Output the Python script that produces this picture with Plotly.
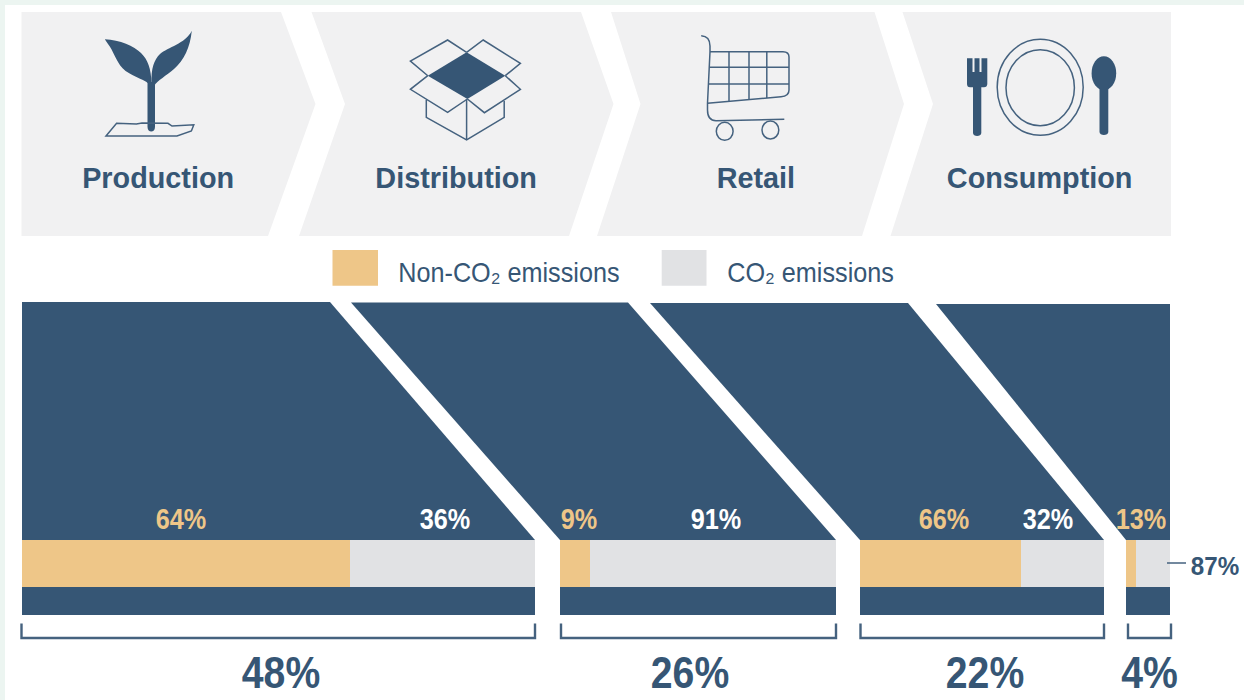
import json
import plotly.graph_objects as go

# ---- data ----
stages = ["Production", "Distribution", "Retail", "Consumption"]
stage_share = [48, 26, 22, 4]
non_co2_share = [64, 9, 66, 13]
co2_share = [36, 91, 32, 87]
# share of each bar actually painted orange in the picture
non_co2_painted = [64, 11, 66, 23]

# ---- layout (pixels) ----
W, H = 1244, 700
NAVY, ORANGE, GREY, PANEL, STRIP = "#365675", "#eec688", "#e1e2e4", "#f1f1f2", "#ecf5f1"
BRACKET = "#45627f"
FONT = "Liberation Sans, Arial, sans-serif"
bar_left = [22, 560, 860, 1126]
bar_right = [535, 836, 1104, 1170]
trap_top = [(22, 330, 302), (351, 628, 302.5), (650, 908, 303), (936, 1170, 304)]
bracket_x = [(21.5, 535), (561, 836), (860.5, 1104), (1128, 1171)]
share_label_x = [280.5, 689.5, 984.5, 1149]
stage_label_x = [157.5, 456, 755.5, 1039]
non_label_x = [181, 579, 944, 1141]
co2_label_x = [445, 716, 1048]

bar_w = [r - l for l, r in zip(bar_left, bar_right)]
orange_w = [w * p / 100 for w, p in zip(bar_w, non_co2_painted)]
grey_base = [l + o for l, o in zip(bar_left, orange_w)]
grey_w = [w - o for w, o in zip(bar_w, orange_w)]

fig = go.Figure()

# dark slanted blocks above the bars
for (tl, tr, ty), l, r in zip(trap_top, bar_left, bar_right):
    fig.add_trace(go.Scatter(x=[tl, tr, r, l, tl], y=[ty, ty, 540, 540, ty], mode="lines",
                             fill="toself", fillcolor=NAVY, line=dict(width=0),
                             hoverinfo="skip", showlegend=False))

def bars(x, base, y, width, color, name):
    fig.add_trace(go.Bar(x=x, base=base, y=[y] * len(x), width=width, orientation="h",
                         marker=dict(color=color, line=dict(width=0)), name=name, showlegend=False))

bars(orange_w, bar_left, 563.5, 47, ORANGE, "Non-CO2 emissions")
bars(grey_w, grey_base, 563.5, 47, GREY, "CO2 emissions")
bars(bar_w, bar_left, 601, 28, NAVY, "band")

shapes = []
def rect(x0, y0, x1, y1, fill):
    shapes.append(dict(type="rect", x0=x0, y0=y0, x1=x1, y1=y1, fillcolor=fill, line=dict(width=0), layer="below"))
def path(d, fill=None, color=None, width=1.5):
    s = dict(type="path", path=d, layer="above", line=dict(width=width if color else 0, color=color or "rgba(0,0,0,0)"))
    s["fillcolor"] = fill if fill else "rgba(0,0,0,0)"
    shapes.append(s)
def ellipse(cx, cy, rx, ry, fill=None, color=None, width=1.5):
    shapes.append(dict(type="circle", x0=cx - rx, x1=cx + rx, y0=cy - ry, y1=cy + ry,
                       fillcolor=fill or "rgba(0,0,0,0)", line=dict(width=width if color else 0, color=color or "rgba(0,0,0,0)")))
def poly(pts, close=True, **kw):
    d = "M " + " L ".join(f"{x},{y}" for x, y in pts) + (" Z" if close else "")
    path(d, **kw)

# page strips
rect(0, 0, W, 5, STRIP)
rect(0, 0, 5, H, STRIP)

# chevron panels
path("M 21.5,12 L 281,12 L 315.5,104 L 268,236 L 21.5,236 Z", fill=PANEL)
path("M 311.5,12 L 581,12 L 613.5,104 L 569,236 L 299,236 L 345,104 Z", fill=PANEL)
path("M 611,12 L 874.5,12 L 904,104 L 862,236 L 597,236 L 640.5,104 Z", fill=PANEL)
path("M 902.5,12 L 1171,12 L 1171,236 L 890.5,236 L 933,104 Z", fill=PANEL)

# sprout icon
path("M 104.8,39.3 C 120,40 134,46 141,53 C 148,60 151,68 151.6,84 L 149,84 C 142,78 130,76 122.6,68.3 C 116,61 113,50 108,44 Z", fill=NAVY)
path("M 191.8,30.7 C 190,48 184,60 174,69 C 166,76 158,80 154,86 L 151.5,84 C 151,68 154,60 160,54 C 168,47 185,44 191.8,30.7 Z", fill=NAVY)
path("M 147.5,82 L 155,82 L 155,127 C 155,133 147.5,133 147.5,127 Z", fill=NAVY)
poly([(106, 136), (116.6, 123.3), (136.4, 124), (142, 123), (168, 123.3), (172, 126), (193.8, 124.7),
      (191.4, 131), (177, 136)], color=BRACKET, width=1.5)

# box icon
poly([(466.6, 52.3), (505.3, 75.7), (467.4, 99), (427.8, 75.7)], fill=NAVY)
poly([(427.8, 75.7), (410.4, 61), (447.6, 40), (466.6, 52.3)], close=False, color=BRACKET)
poly([(466.6, 52.3), (483.2, 40), (520.4, 63.3), (505.3, 75.7)], close=False, color=BRACKET)
poly([(427.8, 75.7), (410.4, 89.3), (447.6, 112.3), (467.4, 99)], close=False, color=BRACKET)
poly([(505.3, 75.7), (520.4, 89.3), (484.4, 112.7), (467.4, 99)], close=False, color=BRACKET)
poly([(426.3, 100), (426.3, 117.3), (466.6, 140), (504.2, 117.3), (504.2, 101)], close=False, color=BRACKET)
poly([(466.6, 99), (466.6, 140)], close=False, color=BRACKET)

# cart icon
path("M 701.2,35.7 C 707,36 710,40 710,46 L 710,51.7 L 707.5,103.3 L 707.5,110 C 707.5,117 710,120.7 716,120.7 L 784.3,119.3",
     color=BRACKET)
path("M 710,51.7 L 783,51.7 C 787,51.7 789,54 789,57 L 789,90 C 789,94 786,96.5 781,96.7 L 707.5,103.3", color=BRACKET)
poly([(709.5, 67.3), (789, 67.3)], close=False, color=BRACKET)
poly([(708.5, 84), (789, 84)], close=False, color=BRACKET)
poly([(729, 51.7), (729, 101)], close=False, color=BRACKET)
poly([(749, 51.7), (749, 99.5)], close=False, color=BRACKET)
poly([(766.8, 51.7), (766.8, 98)], close=False, color=BRACKET)
ellipse(724.7, 131.3, 8.4, 9, color=BRACKET)
ellipse(770.4, 130, 8.4, 9, color=BRACKET)

# plate, fork, spoon icons
ellipse(1040.2, 87.3, 43, 48, color=BRACKET)
ellipse(1040.2, 87.7, 34.2, 38, color=BRACKET)
path("M 967,58.3 L 972.5,58.3 L 972.5,72 L 974.5,72 L 974.5,58.3 L 979.5,58.3 L 979.5,72 L 981.5,72 L 981.5,58.3 L 987.3,58.3 "
     "L 987.3,84 C 987.3,86 986,87.3 984,87.3 L 981.3,87.3 L 981.3,133 C 981.3,137 973,137 973,133 L 973,87.3 "
     "L 970,87.3 C 968,87.3 967,86 967,84 Z", fill=NAVY)
ellipse(1103.9, 73.3, 12.3, 17, fill=NAVY)
path("M 1099.5,84 L 1108.3,84 L 1108.3,132 C 1108.3,136 1099.5,136 1099.5,132 Z", fill=NAVY)

# legend swatches
rect(332.5, 250, 378, 285.7, ORANGE)
rect(661.7, 250, 706.5, 285.7, GREY)

# brackets
for x0, x1 in bracket_x:
    poly([(x0, 623.5), (x0, 638), (x1, 638), (x1, 623.5)], close=False, color=BRACKET, width=2.4)
# 87 % leader
poly([(1167, 563), (1186, 563)], close=False, color=BRACKET, width=1.5)

# horizontal squeeze of each text, since no narrow face is installed
squeeze = []
def text(x, y, s, size, color, bold=True, narrow=0.87):
    squeeze.append(narrow)
    fig.add_annotation(x=x, y=y, text=f"<b>{s}</b>" if bold else s, showarrow=False, xref="x", yref="y",
                       xanchor="center", yanchor="middle", font=dict(family=FONT, size=size, color=color))

for x, s in zip(stage_label_x, stages):
    text(x, 177, s, 30, NAVY, narrow=0.96)
text(508.5, 272, "Non-CO\u2082 emissions", 28, NAVY, bold=False, narrow=0.9)
text(810, 272, "CO\u2082 emissions", 28, NAVY, bold=False, narrow=0.9)
for x, v in zip(non_label_x, non_co2_share):
    text(x, 519, f"{v}%", 29, ORANGE)
for x, v in zip(co2_label_x, co2_share):
    text(x, 519, f"{v}%", 29, "#ffffff")
text(1215, 566, f"{co2_share[3]}%", 26, NAVY, narrow=0.93)
for x, v in zip(share_label_x, stage_share):
    text(x, 672, f"{v}%", 45, NAVY)

fig.update_layout(
    width=W, height=H, margin=dict(l=0, r=0, t=0, b=0, pad=0), paper_bgcolor="#ffffff", plot_bgcolor="#ffffff",
    barmode="overlay", bargap=0, showlegend=False, shapes=shapes,
    xaxis=dict(range=[0, W], visible=False, fixedrange=True),
    yaxis=dict(range=[H, 0], visible=False, fixedrange=True),
)
post = """
document.body.style.margin='0';document.body.style.overflow='hidden';
var squeeze=%s;
document.querySelectorAll('.annotation-text').forEach(function(el,i){
  var w=el.getComputedTextLength();
  el.setAttribute('textLength',w*squeeze[i]);
  el.setAttribute('lengthAdjust','spacingAndGlyphs');
});
""" % json.dumps(squeeze)
fig.write_html("out.html", config={"displayModeBar": False}, post_script=post)
